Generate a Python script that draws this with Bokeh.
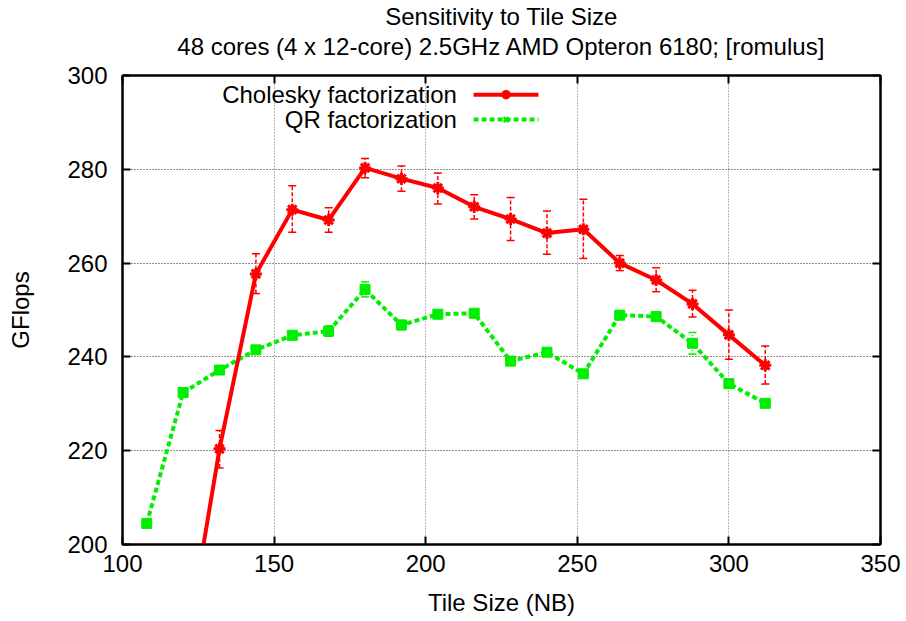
from bokeh.plotting import figure
from bokeh.models import (Range1d, LinearAxis, SingleIntervalTicker, Label, Title,
                          ColumnDataSource, Whisker, TeeHead, CustomJSTickFormatter)
from bokeh.embed import file_html
from bokeh.resources import INLINE

# ---------------- data ----------------
title_lines = ["Sensitivity to Tile Size",
               "48 cores (4 x 12-core) 2.5GHz AMD Opteron 6180; [romulus]"]
x_label = "Tile Size (NB)"
y_label = "GFlops"

chol_nb = [120, 132, 144, 156, 168, 180, 192, 204, 216, 228, 240, 252, 264, 276, 288, 300, 312]
chol_gflops = [174.0, 220.4, 257.7, 271.4, 269.2, 280.3, 278.0, 276.0, 272.0, 269.4, 266.4,
               267.2, 260.0, 256.4, 251.3, 244.7, 238.2]
chol_upper = [177.0, 224.3, 262.0, 276.5, 271.8, 282.3, 280.7, 279.2, 274.6, 274.0, 271.1,
              273.6, 261.6, 259.0, 254.2, 250.0, 242.3]
chol_lower = [171.0, 216.3, 253.5, 266.6, 266.6, 278.2, 275.3, 272.6, 269.4, 264.8, 261.9,
              261.0, 258.4, 253.9, 248.5, 239.5, 234.2]

qr_nb = [108, 120, 132, 144, 156, 168, 180, 192, 204, 216, 228, 240, 252, 264, 276, 288, 300, 312]
qr_gflops = [204.5, 232.4, 237.2, 241.5, 244.6, 245.5, 254.4, 246.8, 249.1, 249.3, 239.1,
             241.0, 236.4, 248.9, 248.6, 242.9, 234.3, 230.1]
qr_upper = [205.5, 233.2, 237.9, 242.2, 245.4, 246.6, 256.0, 247.8, 249.9, 250.0, 239.8,
            241.7, 237.2, 249.6, 249.3, 245.2, 235.2, 230.8]
qr_lower = [203.5, 231.6, 236.5, 240.8, 243.8, 244.4, 252.8, 245.8, 248.3, 248.6, 238.4,
            240.3, 235.6, 248.2, 247.9, 240.6, 233.4, 229.4]

series_names = ["Cholesky factorization", "QR factorization"]

# ---------------- style ----------------
FONT = "Liberation Sans"
FS = "24px"
RED = "#ff0000"
GREEN = "#00ee00"
LEG_TEXT_X = 210.3
LEG_Y = [295.9, 290.6]
LEG_LINE_X0, LEG_LINE_X1 = 215.8, 237.2

p = figure(width=906, height=621, x_range=Range1d(100, 350), y_range=Range1d(200, 300),
           output_backend="svg", toolbar_location=None,
           min_border_left=122, min_border_right=26, min_border_top=73, min_border_bottom=77,
           x_axis_label=x_label, y_axis_label=y_label)
p.title = None
p.background_fill_color = "white"
p.border_fill_color = "white"
p.outline_line_color = "black"
p.outline_line_width = 2

for ax, step in ((p.xaxis[0], 50), (p.yaxis[0], 20)):
    ax.ticker = SingleIntervalTicker(interval=step, num_minor_ticks=0)
    ax.major_label_text_font = FONT
    ax.major_label_text_font_size = FS
    ax.major_label_text_color = "black"
    ax.axis_label_text_font = FONT
    ax.axis_label_text_font_size = FS
    ax.axis_label_text_font_style = "normal"
    ax.axis_label_text_color = "black"
    ax.axis_line_width = 2
    ax.major_tick_in = 8
    ax.major_tick_out = 0
    ax.major_tick_line_width = 2
    ax.minor_tick_line_color = None
p.xaxis[0].major_label_standoff = 10
p.xaxis[0].axis_label_standoff = 14
p.yaxis[0].major_label_standoff = 15
p.yaxis[0].axis_label_standoff = 30

# mirrored ticks on the right and top; the top axis carries the second title line
for loc, step in (("right", 20), ("above", 50)):
    ax = LinearAxis(ticker=SingleIntervalTicker(interval=step, num_minor_ticks=0),
                    formatter=CustomJSTickFormatter(code="return ''"))
    ax.axis_line_width = 2
    ax.major_tick_in = 8
    ax.major_tick_out = 0
    ax.major_tick_line_width = 2
    ax.minor_tick_line_color = None
    ax.major_label_standoff = 0
    ax.major_label_text_font_size = "1px"
    if loc == "above":
        ax.axis_label = title_lines[1]
        ax.axis_label_standoff = 16
        ax.axis_label_text_font = FONT
        ax.axis_label_text_font_size = FS
        ax.axis_label_text_font_style = "normal"
        ax.axis_label_text_color = "black"
    p.add_layout(ax, loc)

# first title line above everything
p.add_layout(Title(text=title_lines[0], align="center", text_font=FONT, text_font_size=FS,
                   text_font_style="normal", text_color="black", standoff=0), "above")

p.xgrid.grid_line_color = "#777777"
p.xgrid.grid_line_dash = "1 2"
p.xgrid.grid_line_width = 1
p.ygrid.grid_line_color = "#222222"
p.ygrid.grid_line_dash = "1 2"
p.ygrid.grid_line_width = 1
p.xgrid.ticker = SingleIntervalTicker(interval=50)
p.ygrid.ticker = SingleIntervalTicker(interval=20)

chol_src = ColumnDataSource(dict(x=chol_nb, y=chol_gflops, up=chol_upper, lo=chol_lower))
qr_src = ColumnDataSource(dict(x=qr_nb, y=qr_gflops, up=qr_upper, lo=qr_lower))

# QR series (drawn first, under Cholesky)
p.add_layout(Whisker(source=qr_src, base="x", upper="up", lower="lo",
                     line_color=GREEN, line_width=1.5, line_dash="1 2",
                     upper_head=TeeHead(size=8, line_color=GREEN, line_width=1.5),
                     lower_head=TeeHead(size=8, line_color=GREEN, line_width=1.5)))
p.line("x", "y", source=qr_src, line_color=GREEN, line_width=4, line_dash="5 3")
p.scatter("x", "y", source=qr_src, marker="square", size=10, fill_color=GREEN,
          line_color=GREEN)

# Cholesky series
p.add_layout(Whisker(source=chol_src, base="x", upper="up", lower="lo",
                     line_color=RED, line_width=1.5, line_dash="4 2",
                     upper_head=TeeHead(size=8, line_color=RED, line_width=1.5),
                     lower_head=TeeHead(size=8, line_color=RED, line_width=1.5)))
p.line("x", "y", source=chol_src, line_color=RED, line_width=4)
p.scatter("x", "y", source=chol_src, marker="asterisk", size=12, line_color=RED,
          line_width=3)

# legend (gnuplot style: text right-aligned, sample to the right)
colors = [RED, GREEN]
dashes = ["solid", "5 3"]
markers = ["circle", "x"]
for name, ly, c, d, m in zip(series_names, LEG_Y, colors, dashes, markers):
    p.add_layout(Label(x=LEG_TEXT_X, y=ly, text=name, text_align="right",
                       text_baseline="middle", text_font=FONT, text_font_size=FS,
                       text_color="black"))
    p.line([LEG_LINE_X0, LEG_LINE_X1], [ly, ly], line_color=c, line_width=4, line_dash=d)
    p.scatter([(LEG_LINE_X0 + LEG_LINE_X1) / 2], [ly], marker=m, size=7,
              line_color=c, fill_color=c, line_width=2.5)

open("out.html", "w").write(file_html(p, INLINE))
